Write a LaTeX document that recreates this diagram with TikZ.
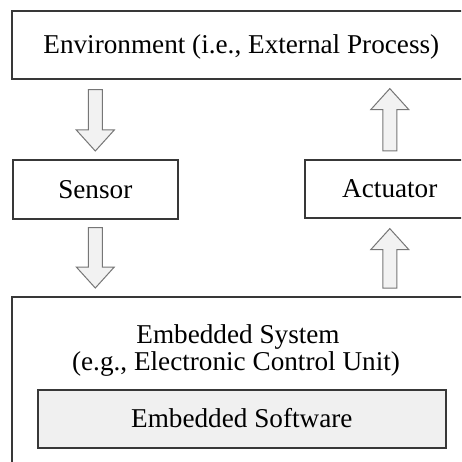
\documentclass[tikz,border=0pt]{standalone}
\usepackage{fontspec}
\setmainfont{Liberation Serif}
\usetikzlibrary{calc}
\definecolor{boxline}{HTML}{383838}
\definecolor{arrline}{HTML}{767676}
\definecolor{arrfill}{HTML}{F2F2F2}
\definecolor{swfill}{HTML}{F0F0F0}
\tikzset{
  box/.style={draw=boxline, line width=1.6pt, fill=white, rectangle, inner sep=0pt,
    text height=18pt, text depth=0pt, font=\fontsize{27.2}{32}\selectfont},
  txt/.style={inner sep=0pt, anchor=base, font=\fontsize{27.2}{32}\selectfont},
  fatarrow/.style={draw=arrline, fill=arrfill, line width=1pt, line join=miter,
    to path={let \p1=(\tikztostart), \p2=(\tikztotarget),
      \n1={ifthenelse(\y2>\y1,1,-1)*21} in
      (\x2-7pt,\y1) -- (\x2-7pt,\y2-\n1*1pt) -- (\x2-19pt,\y2-\n1*1pt) -- (\x2,\y2)
      -- (\x2+19pt,\y2-\n1*1pt) -- (\x2+7pt,\y2-\n1*1pt) -- (\x2+7pt,\y1) -- cycle}}
}
\begin{document}
\begin{tikzpicture}[x=1pt,y=1pt]
\useasboundingbox (0,0) rectangle (461,-462);
\fill[white] (0,0) rectangle (461,-462);
\clip (0,0) rectangle (461,-462);
\node[box, minimum width=459pt, minimum height=68pt, anchor=north west] (env) at (11,-10) {Environment (i.e., External Process)};
\node[box, minimum width=165pt, minimum height=59pt, anchor=north west] (sensor) at (12,-159) {Sensor};
\node[box, minimum width=170pt, minimum height=58pt, anchor=north west] (act) at (304,-159) {Actuator};
\node[box, minimum width=460pt, minimum height=230pt, anchor=north west] (sys) at (11,-296) {};
\node[txt] (systitle) at (238,-343) {Embedded System};
\node[txt] (sysnote) at (236,-370) {(e.g., Electronic Control Unit)};
\node[box, fill=swfill, minimum width=408pt, minimum height=58pt, anchor=north west] (sw) at (37,-389) {Embedded Software};
\draw[fatarrow] ($(env.south -| sensor.north)+(0,-10)$) to ($(sensor.north)+(0,8)$);
\draw[fatarrow] ($(sensor.south)+(0,-8)$) to ($(sys.north -| sensor.south)+(0,8)$);
\draw[fatarrow] ($(act.north)+(0,8)$) to ($(env.south -| act.north)+(0,-9)$);
\draw[fatarrow] ($(sys.north -| act.south)+(0,8)$) to ($(act.south)+(0,-10)$);
\end{tikzpicture}
\end{document}
